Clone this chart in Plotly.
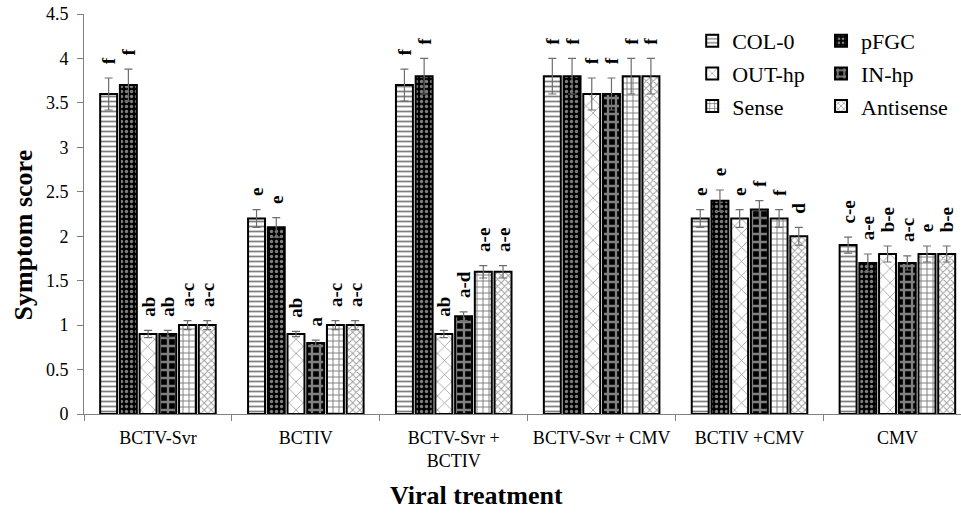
import plotly.graph_objects as go

categories = ["BCTV-Svr", "BCTIV", "BCTV-Svr +<br>BCTIV", "BCTV-Svr + CMV", "BCTIV +CMV", "CMV"]
series_names = ["COL-0", "pFGC", "OUT-hp", "IN-hp", "Sense", "Antisense"]

col0 = [3.6, 2.2, 3.7, 3.8, 2.2, 1.9]
pfgc = [3.7, 2.1, 3.8, 3.8, 2.4, 1.7]
outhp = [0.9, 0.9, 0.9, 3.6, 2.2, 1.8]
inhp = [0.9, 0.8, 1.1, 3.6, 2.3, 1.7]
sense = [1.0, 1.0, 1.6, 3.8, 2.2, 1.8]
antisense = [1.0, 1.0, 1.6, 3.8, 2.0, 1.8]

col0_err = [0.18, 0.10, 0.18, 0.20, 0.10, 0.09]
pfgc_err = [0.18, 0.11, 0.20, 0.20, 0.12, 0.10]
outhp_err = [0.04, 0.03, 0.04, 0.18, 0.10, 0.09]
inhp_err = [0.04, 0.03, 0.05, 0.18, 0.10, 0.08]
sense_err = [0.05, 0.05, 0.07, 0.20, 0.10, 0.09]
antisense_err = [0.05, 0.05, 0.07, 0.20, 0.10, 0.09]

col0_sig = ["f", "e", "f", "f", "e", "c-e"]
pfgc_sig = ["f", "e", "f", "f", "e", "a-e"]
outhp_sig = ["ab", "ab", "ab", "f", "e", "b-e"]
inhp_sig = ["ab", "a", "a-d", "f", "f", "a-c"]
sense_sig = ["a-c", "a-c", "a-e", "f", "f", "e"]
antisense_sig = ["a-c", "a-c", "a-e", "f", "d", "b-e"]

values = [col0, pfgc, outhp, inhp, sense, antisense]
errors = [col0_err, pfgc_err, outhp_err, inhp_err, sense_err, antisense_err]
letters = [col0_sig, pfgc_sig, outhp_sig, inhp_sig, sense_sig, antisense_sig]

patterns = [
    dict(shape="-", fgcolor="black", bgcolor="white", size=5, solidity=0.35),
    dict(shape=".", fgcolor="white", bgcolor="black", size=5, solidity=0.35),
    dict(shape="x", fgcolor="black", bgcolor="white", size=10, solidity=0.12),
    dict(shape="+", fgcolor="white", bgcolor="black", size=8, solidity=0.5),
    dict(shape="+", fgcolor="black", bgcolor="white", size=6, solidity=0.3),
    dict(shape="x", fgcolor="#3a3a3a", bgcolor="white", size=5, solidity=0.35),
]

SERIF = "Liberation Serif"
LABEL_GAP = 0.12

fig = go.Figure()
for i, name in enumerate(series_names):
    legend_id = "legend" if i % 2 == 0 else "legend2"
    fig.add_trace(go.Bar(
        x=categories, y=values[i], name=name, offsetgroup=str(i),
        legend=legend_id, legendgroup=name,
        marker=dict(color="white", line=dict(color="black", width=2), pattern=patterns[i]),
        error_y=dict(type="data", array=errors[i], visible=True,
                     color="#6e6e6e", thickness=1.2, width=4),
    ))
    fig.add_trace(go.Bar(
        x=categories, y=[v + e + LABEL_GAP for v, e in zip(values[i], errors[i])],
        offsetgroup=str(i), showlegend=False, hoverinfo="skip",
        marker=dict(color="rgba(0,0,0,0)", line=dict(width=0)),
        text=letters[i], textposition="outside", textangle=-90,
        constraintext="none", cliponaxis=False,
        textfont=dict(family=SERIF, size=19, color="black", weight="bold"),
    ))

fig.update_layout(
    width=961, height=517, autosize=False,
    margin=dict(l=84, r=0, t=14, b=103),
    plot_bgcolor="white", paper_bgcolor="white",
    barmode="group", bargap=0.2, bargroupgap=0.14,
    font=dict(family=SERIF, color="black"),
    legend=dict(x=0.6935, y=0.985, xanchor="left", yanchor="top",
                font=dict(family=SERIF, size=22, color="black"),
                bgcolor="rgba(0,0,0,0)", itemwidth=30, tracegroupgap=1),
    legend2=dict(x=0.8404, y=0.985, xanchor="left", yanchor="top",
                 font=dict(family=SERIF, size=22, color="black"),
                 bgcolor="rgba(0,0,0,0)", itemwidth=30, tracegroupgap=1),
    xaxis=dict(type="category", range=[-0.5, 5.43], showline=True, linecolor="#808080",
               linewidth=1, ticks="outside", tickson="boundaries", ticklen=6,
               tickcolor="#808080", tickfont=dict(family=SERIF, size=18, color="black"),
               ticklabelstandoff=7, showgrid=False, automargin=False,
               ticklabeloverflow="allow"),
    yaxis=dict(range=[0, 4.5], dtick=0.5, showline=True, linecolor="#808080",
               linewidth=1, ticks="outside", ticklen=6, tickcolor="#808080",
               tickfont=dict(family=SERIF, size=18, color="black"),
               ticklabelstandoff=5, showgrid=False, zeroline=False, automargin=False,
               ticklabeloverflow="allow"),
    annotations=[
        dict(text="<b>Viral treatment</b>", xref="paper", yref="paper",
             x=0.447, y=-0.2025, xanchor="center", yanchor="middle", showarrow=False,
             font=dict(family=SERIF, size=26, color="black")),
        dict(text="<b>Symptom score</b>", xref="paper", yref="paper",
             x=-0.069, y=0.4475, xanchor="center", yanchor="middle", showarrow=False,
             textangle=-90, font=dict(family=SERIF, size=26, color="black")),
    ],
)

# remove the browser's default 8px body margin so the figure fills the window exactly
fig.write_html("out.html", config={"displayModeBar": False},
               post_script="document.body.style.margin='0';")
